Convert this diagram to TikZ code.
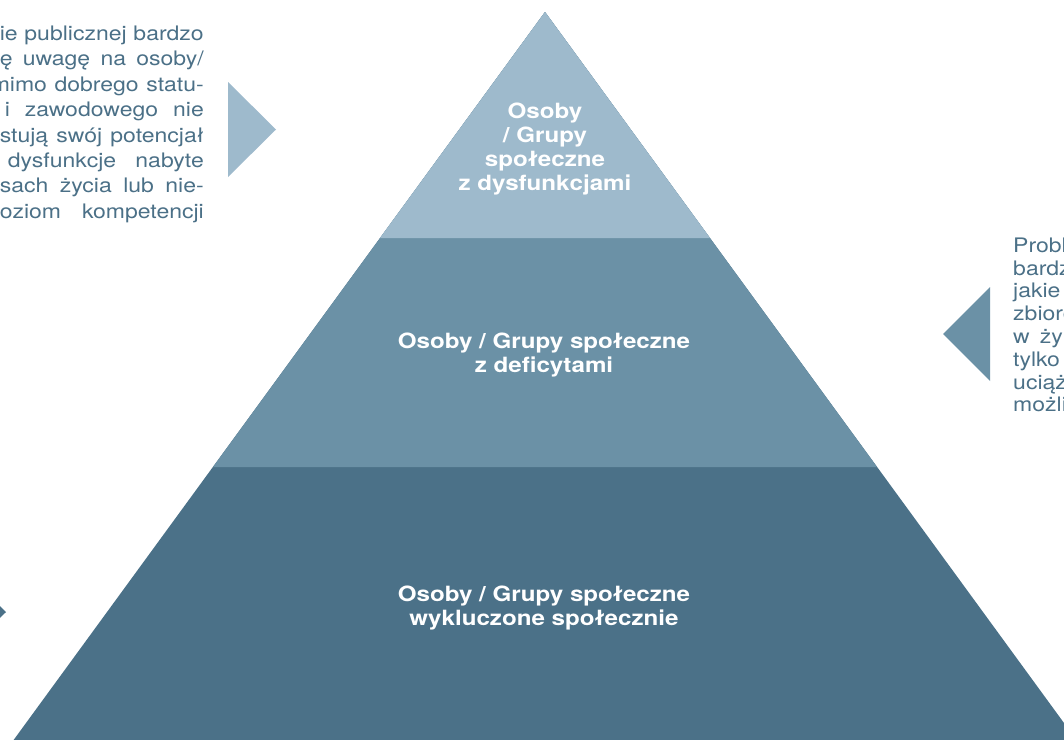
\documentclass[tikz,border=0pt]{standalone}
\usepackage{fontspec}
\setmainfont{TeX Gyre Heros}[FakeStretch=1.15]
\usetikzlibrary{positioning}
\definecolor{pyrtop}{RGB}{158,186,204}
\definecolor{pyrmid}{RGB}{107,145,166}
\definecolor{pyrbot}{RGB}{75,113,136}
\definecolor{paratxt}{RGB}{75,112,135}
\newcommand{\jline}[1]{\makebox[204pt][s]{#1}}

\begin{document}
\begin{tikzpicture}[x=1pt, y=-1pt,
  layer/.style={fill=#1},
  pointer/.style={fill=#1},
  lbl/.style={text=white, align=center, inner sep=0pt, font=\bfseries\fontsize{21}{24}\selectfont},
  para/.style={text=paratxt, inner sep=0pt, font=\fontsize{20}{25.4}\selectfont},
]
\useasboundingbox (0,0) rectangle (1064,739);
\clip (0,0) rectangle (1064,739);
% pyramid
\fill[layer=pyrbot] (545,12) -- (1091,760) -- (-1,760) -- cycle;
\fill[layer=pyrmid] (545,12) -- (877,467) -- (213,467) -- cycle;
\fill[layer=pyrtop] (545,12) -- (710,238) -- (380,238) -- cycle;
\node[lbl] (dysf) at (545,149) {Osoby\\/ Grupy\\społeczne\\z dysfunkcjami};
\node[lbl] (defi) at (544,355) {Osoby / Grupy społeczne\\z deficytami};
\node[lbl] (wykl) at (544,608) {Osoby / Grupy społeczne\\wykluczone społecznie};
% pointers
\fill[pointer=pyrtop] (228,82) -- (276,129.5) -- (228,177) -- cycle;
\fill[pointer=pyrmid] (990,287) -- (943,334) -- (990,381) -- cycle;
\fill[pointer=pyrbot] (-42,564.5) -- (6,612) -- (-42,659.5) -- cycle;
% side texts
\foreach \ln [count=\k] in {{ie publicznej bardzo}, {ę uwagę na osoby/}, {\hspace{-9pt}mimo dobrego statu-},
    {\hspace{5pt}i zawodowego nie}, {stują swój potencjał}, {\hspace{8pt}dysfunkcje nabyte},
    {sach życia lub nie-}, {oziom kompetencji}} {
  \node[para, anchor=base east] (lline\k) at (204,15.1+25.4*\k) {\jline{\ln}};
}
\foreach \ln [count=\k] in {Probl, bardz, jakie, zbioro, {w\hspace{10pt}ży}, tylko, uciąż, możli} {
  \node[para, anchor=base west] (rline\k) at (1013,229.5+22.8*\k) {\ln};
}
\end{tikzpicture}
\end{document}
